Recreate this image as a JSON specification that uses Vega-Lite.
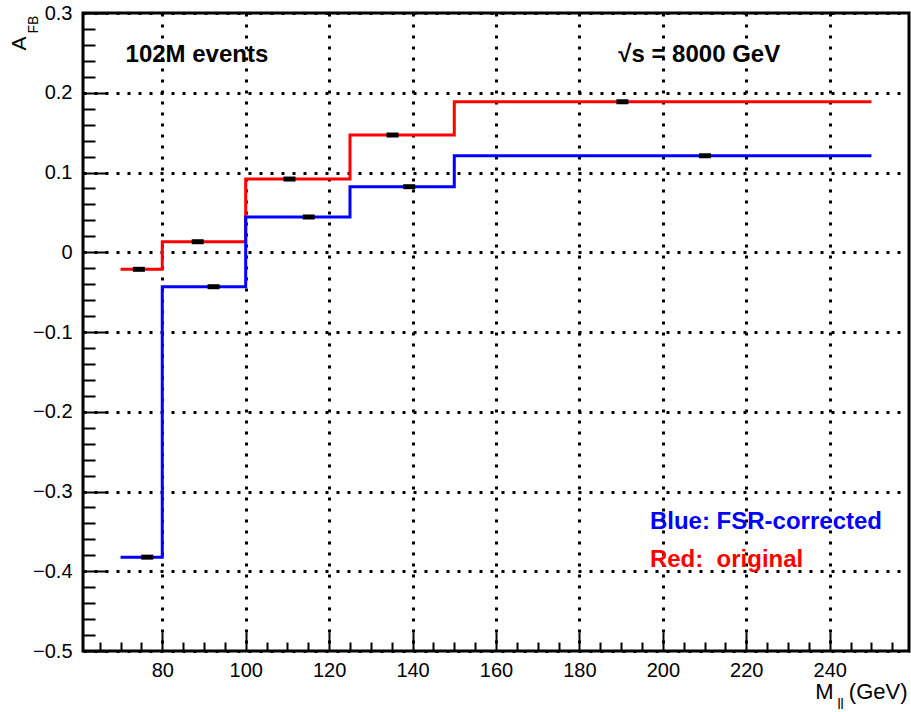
{
  "$schema": "https://vega.github.io/schema/vega-lite/v6.json",
  "width": 826,
  "height": 638,
  "autosize": {"type": "none"},
  "padding": {"left": 83, "top": 13, "right": 2, "bottom": 61},
  "background": "white",
  "config": {
    "font": "Liberation Sans",
    "view": {"stroke": "black", "strokeWidth": 3},
    "axis": {"labelColor": "black", "titleColor": "black", "tickColor": "black", "titleFontWeight": "normal", "domain": false}
  },
  "datasets": {
    "bins": [
      {"series": "original", "bin": 1, "lo": 70, "hi": 80, "val": -0.0214, "mx": 74.4},
      {"series": "original", "bin": 2, "lo": 80, "hi": 100, "val": 0.0132, "mx": 88.5},
      {"series": "original", "bin": 3, "lo": 100, "hi": 125, "val": 0.0918, "mx": 110.5},
      {"series": "original", "bin": 4, "lo": 125, "hi": 150, "val": 0.147, "mx": 135.2},
      {"series": "original", "bin": 5, "lo": 150, "hi": 250, "val": 0.1887, "mx": 190.3},
      {"series": "FSR-corrected", "bin": 1, "lo": 70, "hi": 80, "val": -0.3823, "mx": 76.4},
      {"series": "FSR-corrected", "bin": 2, "lo": 80, "hi": 100, "val": -0.0432, "mx": 92.3},
      {"series": "FSR-corrected", "bin": 3, "lo": 100, "hi": 125, "val": 0.0442, "mx": 115.1},
      {"series": "FSR-corrected", "bin": 4, "lo": 125, "hi": 150, "val": 0.0822, "mx": 139.2},
      {"series": "FSR-corrected", "bin": 5, "lo": 150, "hi": 250, "val": 0.121, "mx": 210.1}
    ],
    "notes": [
      {"series": "label", "text": "102M events", "x": 71.2, "y": 0.2386},
      {"series": "label", "text": "√s = 8000 GeV", "x": 189.3, "y": 0.2386},
      {"series": "FSR-corrected", "text": "Blue: FSR-corrected", "x": 196.9, "y": -0.347},
      {"series": "original", "text": "Red:\u00a0\u00a0original", "x": 196.9, "y": -0.3947}
    ]
  },
  "resolve": {"axis": {"x": "independent", "y": "independent"}},
  "layer": [
    {
      "data": {"name": "bins"},
      "transform": [{"fold": ["lo", "hi"], "as": ["edge", "xe"]}],
      "mark": {"type": "line", "strokeWidth": 3, "clip": true},
      "encoding": {
        "x": {
          "field": "xe", "type": "quantitative",
          "scale": {"domain": [61, 259], "nice": false, "zero": false},
          "axis": {
            "orient": "bottom",
            "values": [80, 100, 120, 140, 160, 180, 200, 220, 240],
            "grid": true, "gridColor": "black", "gridDash": [3, 8], "gridWidth": 3,
            "tickSize": -19, "tickWidth": 2,
            "labelFontSize": 20, "labelPadding": 28, "labelFlush": false, "labelBaseline": "top",
            "title": "(GeV)", "titleX": 824, "titleY": 47, "titleAlign": "right", "titleBaseline": "alphabetic", "titleFontSize": 22
          }
        },
        "y": {
          "field": "val", "type": "quantitative",
          "scale": {"domain": [-0.5, 0.3], "nice": false, "zero": false},
          "axis": {
            "orient": "left",
            "values": [-0.5, -0.4, -0.3, -0.2, -0.1, 0, 0.1, 0.2, 0.3],
            "format": ".1~f",
            "grid": true, "gridColor": "black", "gridDash": [3, 8], "gridWidth": 3,
            "tickSize": -24, "tickWidth": 2,
            "labelFontSize": 20, "labelPadding": 35, "labelFlush": false, "labelBaseline": "middle",
            "title": "A", "titleX": -58, "titleY": 30, "titleAngle": -90, "titleAlign": "center", "titleBaseline": "alphabetic", "titleFontSize": 21
          }
        },
        "color": {
          "field": "series", "type": "nominal",
          "scale": {"domain": ["original", "FSR-corrected", "label"], "range": ["#ff0000", "#0000ff", "#000000"]},
          "legend": null
        },
        "order": [{"field": "bin", "type": "quantitative"}, {"field": "edge", "type": "nominal", "sort": "descending"}]
      }
    },
    {
      "data": {"name": "bins"},
      "mark": {"type": "tick", "orient": "horizontal", "size": 12, "thickness": 5, "color": "black", "opacity": 1},
      "encoding": {
        "x": {
          "field": "mx", "type": "quantitative",
          "axis": {
            "orient": "bottom",
            "values": [65, 70, 75, 85, 90, 95, 105, 110, 115, 125, 130, 135, 145, 150, 155, 165, 170, 175, 185, 190, 195, 205, 210, 215, 225, 230, 235, 245, 250, 255],
            "grid": false, "labels": false,
            "tickSize": -9, "tickWidth": 2,
            "title": "M", "titleX": 750, "titleY": 47, "titleAlign": "right", "titleBaseline": "alphabetic", "titleFontSize": 22
          }
        },
        "y": {
          "field": "val", "type": "quantitative",
          "axis": {
            "orient": "left",
            "values": [-0.48, -0.46, -0.44, -0.42, -0.38, -0.36, -0.34, -0.32, -0.28, -0.26, -0.24, -0.22, -0.18, -0.16, -0.14, -0.12, -0.08, -0.06, -0.04, -0.02, 0.02, 0.04, 0.06, 0.08, 0.12, 0.14, 0.16, 0.18, 0.22, 0.24, 0.26, 0.28],
            "grid": false, "labels": false,
            "tickSize": -12, "tickWidth": 2,
            "title": "FB", "titleX": -46, "titleY": 11, "titleAngle": -90, "titleAlign": "center", "titleBaseline": "alphabetic", "titleFontSize": 14
          }
        }
      }
    },
    {
      "data": {"name": "notes"},
      "mark": {"type": "text", "align": "left", "baseline": "alphabetic", "fontSize": 24, "fontWeight": "bold"},
      "encoding": {
        "x": {
          "field": "x", "type": "quantitative",
          "axis": {
            "orient": "bottom", "grid": false, "labels": false, "ticks": false,
            "title": "ll", "titleX": 757, "titleY": 57, "titleAlign": "center", "titleBaseline": "alphabetic", "titleFontSize": 14
          }
        },
        "y": {"field": "y", "type": "quantitative", "axis": null},
        "text": {"field": "text", "type": "nominal"},
        "color": {"field": "series", "type": "nominal", "legend": null}
      }
    }
  ]
}
